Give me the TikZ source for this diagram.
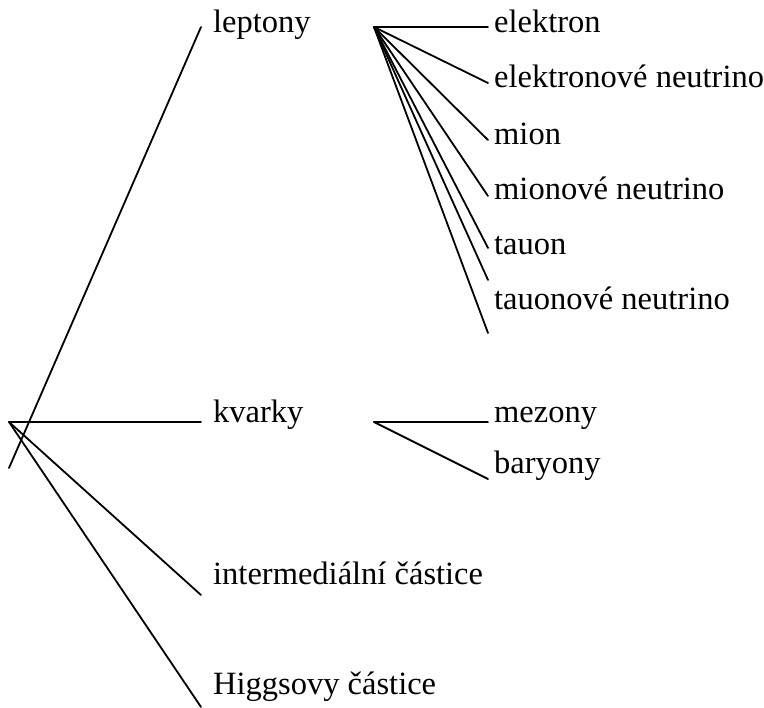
\documentclass[tikz,border=0pt]{standalone}
\usepackage{fontspec}
\setmainfont{Liberation Serif}
\newfontfamily\lblfont{Liberation Serif}
\usetikzlibrary{positioning}

\begin{document}
\begin{tikzpicture}[
  x=1pt, y=1pt,
  branch/.style={line width=1.8pt, line cap=round},
  lbl/.style={inner sep=0pt, anchor=base west, font=\lblfont\fontsize{32.5}{39}\selectfont}
]
\useasboundingbox (0,0) rectangle (764,-708);

% Root and first level
\coordinate (root) at (9,-422);
\coordinate (lbot) at (9,-468);
\coordinate (ltop) at (201,-27);
\coordinate (kend) at (201,-422);
\coordinate (iend) at (201,-595);
\coordinate (hend) at (201,-707);

\node[lbl] (lept) at (213,-33) {leptony};
\node[lbl] (kvark) at (213,-423) {kvarky};
\node[lbl] (inter) at (213,-585) {intermediální částice};
\node[lbl] (higgs) at (213,-695) {Higgsovy částice};

% Lepton fan
\coordinate (lfan) at (374,-27);
\foreach \n/\y in {1/27, 2/83, 3/140, 4/196, 5/248, 6/280, 7/333}
  \coordinate (e\n) at (488,-\y);

\node[lbl] (elek) at (494,-33) {elektron};
\node[lbl] (elnu) at (494,-88) {elektronové neutrino};
\node[lbl] (mion) at (494,-145) {mion};
\node[lbl] (minu) at (494,-200) {mionové neutrino};
\node[lbl] (tau) at (494,-255) {tauon};
\node[lbl] (tanu) at (494,-310) {tauonové neutrino};

% Quark fan
\coordinate (kfan) at (374,-422);
\coordinate (m1) at (488,-422);
\coordinate (m2) at (488,-479);

\node[lbl] (mez) at (494,-423) {mezony};
\node[lbl] (bar) at (494,-474) {baryony};

% Connectors
\draw[branch] (lbot) -- (ltop);
\draw[branch] (root) -- (kend);
\draw[branch] (root) -- (iend);
\draw[branch] (root) -- (hend);
\foreach \n in {1,...,7}
  \draw[branch] (lfan) -- (e\n);
\draw[branch] (kfan) -- (m1);
\draw[branch] (kfan) -- (m2);

\end{tikzpicture}
\end{document}
